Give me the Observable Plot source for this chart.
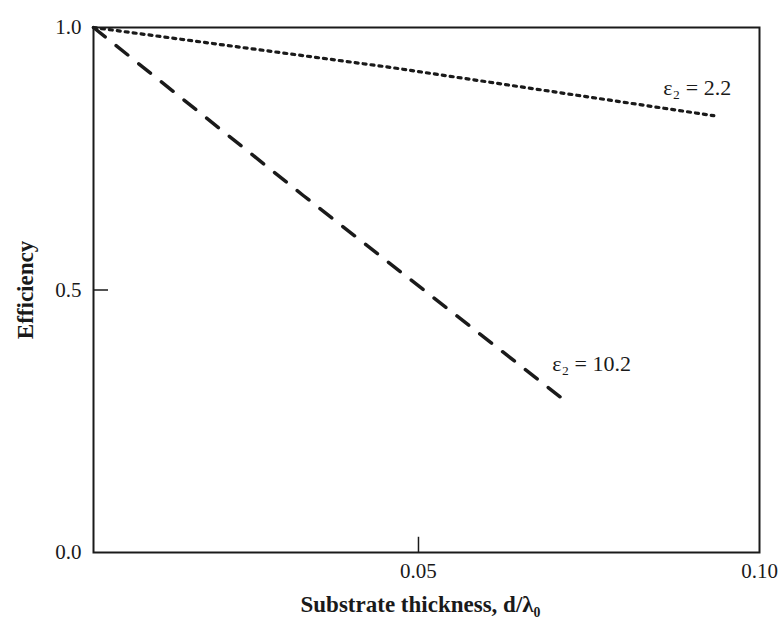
<!DOCTYPE html>
<html>
<head>
<meta charset="utf-8">
<script src="https://cdn.jsdelivr.net/npm/d3@7"></script>
<script src="https://cdn.jsdelivr.net/npm/@observablehq/plot@0.6"></script>
<style>
  html, body { margin: 0; padding: 0; background: #fff; }
</style>
</head>
<body>
<div id="chart"></div>
<script>
// Substrate thickness d/λ0 and efficiency values
const thickLow = [0.00235, 0.0459, 0.0933];      // ε = 2.2 series x
const effLow = [1.0, 0.924, 0.832];              // ε = 2.2 series y
const thickHigh = [0.00235, 0.0331, 0.0718];     // ε = 10.2 series x
const effHigh = [1.0, 0.68, 0.286];              // ε = 10.2 series y

const xTicks = [0.05, 0.10];
const xTickLabels = ["0.05", "0.10"];
const yTicks = [0.0, 0.5, 1.0];
const yTickLabels = ["0.0", "0.5", "1.0"];

const seriesLabels = ["ε₂ = 2.2", "ε₂ = 10.2"];
const labelX = [0.0859, 0.0696];
const labelY = [0.884, 0.36];

const xLabel = "Substrate thickness, d/λ₀";
const yLabel = "Efficiency";

const low = thickLow.map((x, i) => ({x, y: effLow[i]}));
const high = thickHigh.map((x, i) => ({x, y: effHigh[i]}));
const labels = seriesLabels.map((t, i) => ({t, x: labelX[i], y: labelY[i]}));

const xDomain = [0.00235, 0.1];

const chart = Plot.plot({
  width: 783,
  height: 617,
  marginLeft: 93,
  marginRight: 24,
  marginTop: 27,
  marginBottom: 65,
  style: {fontFamily: "'Liberation Serif', serif", fontSize: "20px", color: "#1a1a1a", background: "#fff"},
  x: {domain: xDomain},
  y: {domain: [0, 1]},
  marks: [
    Plot.axisX(xTicks, {tickSize: 0, tickPadding: 11, tickFormat: (d, i) => xTickLabels[i], label: null, fontSize: 21}),
    Plot.axisY(yTicks, {tickSize: 0, tickPadding: 12, tickFormat: (d, i) => yTickLabels[i], label: null, fontSize: 21}),
    Plot.ruleX([0.05], {y1: 0, y2: 0.029, stroke: "#1a1a1a", strokeWidth: 1.5}),
    Plot.ruleY([0.5], {x1: xDomain[0], x2: xDomain[0] + 0.0022, stroke: "#1a1a1a", strokeWidth: 1.5}),
    Plot.line(low, {x: "x", y: "y", stroke: "#1a1a1a", strokeWidth: 3.2, strokeDasharray: "3,5"}),
    Plot.line(high, {x: "x", y: "y", stroke: "#1a1a1a", strokeWidth: 3.5, strokeDasharray: "15,14"}),
    Plot.text(labels, {x: "x", y: "y", text: "t", textAnchor: "start", fontSize: 22, fill: "#1a1a1a"}),
    Plot.text([xLabel], {frameAnchor: "bottom", lineAnchor: "middle", textAnchor: "middle", dy: 52, dx: -6, fontWeight: "bold", fontSize: 23, fill: "#1a1a1a"}),
    Plot.text([yLabel], {frameAnchor: "left", lineAnchor: "middle", textAnchor: "middle", dx: -68, rotate: -90, fontWeight: "bold", fontSize: 23, fill: "#1a1a1a"}),
    Plot.frame({stroke: "#1a1a1a", strokeWidth: 2})
  ]
});
document.getElementById("chart").appendChild(chart);
</script>
</body>
</html>
